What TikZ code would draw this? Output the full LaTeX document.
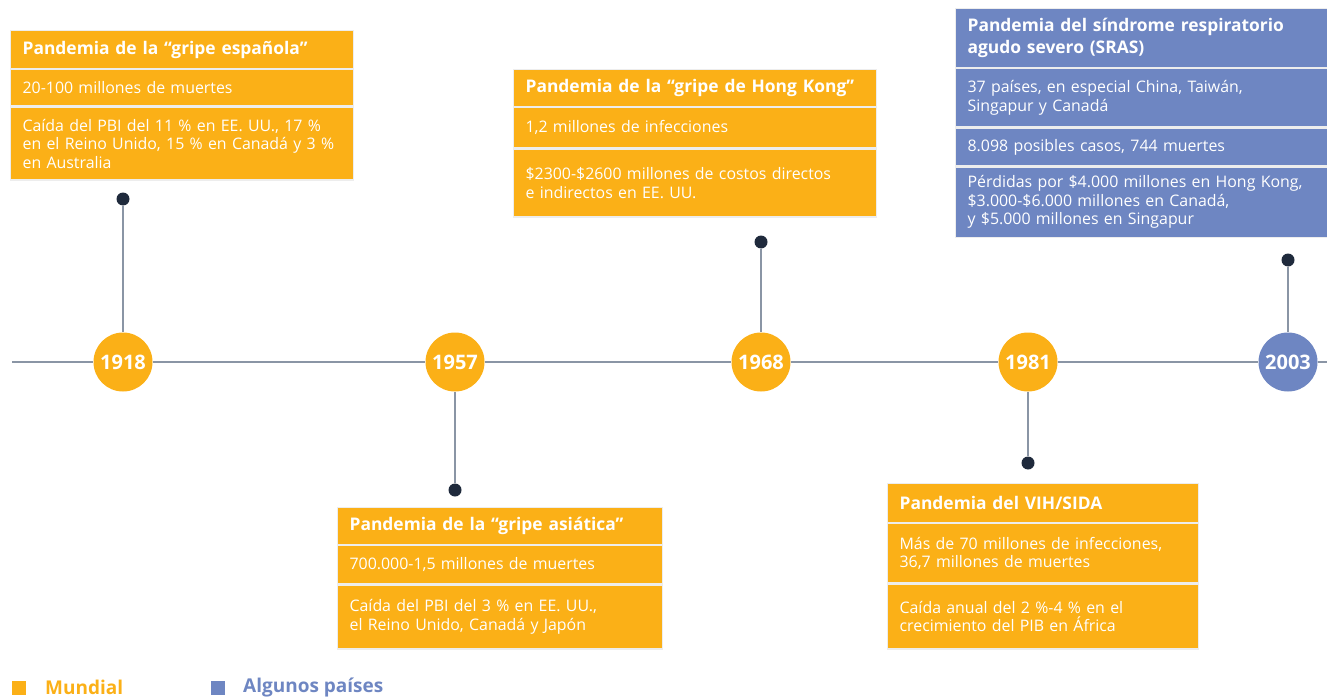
\documentclass[tikz,border=0pt]{standalone}
\usepackage{fontspec}
\setmainfont{Open Sans}
\usetikzlibrary{positioning}
\definecolor{mundial}{HTML}{FBB017}
\definecolor{paises}{HTML}{6E86C2}
\definecolor{punto}{HTML}{1F2A3C}
\definecolor{eje}{HTML}{8A95A5}

\begin{document}
\begin{tikzpicture}[x=1pt,y=-1pt,
    every node/.style={inner sep=0pt},
    hdr/.style={fill=#1,draw=black!7,line width=1.2pt,text=white,font=\bfseries\fontsize{17.4}{22}\selectfont,align=left,inner xsep=12pt,anchor=north west},
    cell/.style={fill=#1,draw=black!7,line width=1.2pt,text=white,font=\fontsize{15.9}{18.5}\selectfont,align=left,inner xsep=12pt},
    yr/.style={circle,fill=#1,minimum size=59pt,text=white,font=\bfseries\fontsize{20}{22}\selectfont},
    dot/.style={circle,fill=punto,minimum size=13pt},
    stem/.style={draw=eje,line width=1.2pt},
    sq/.style={fill=#1,minimum size=14pt},
    legend/.style={text=#1,font=\bfseries\fontsize{19}{22}\selectfont,anchor=west}]
    \useasboundingbox (0,0) rectangle (1327,698);

    % 1918
    \node[hdr=mundial,text width=319pt,minimum height=38pt] (espH) at (10,30) {Pandemia de la “gripe española”};
    \node[cell=mundial,text width=319pt,minimum height=36pt,below=0pt of espH] (espA) {20-100 millones de muertes};
    \node[cell=mundial,text width=319pt,minimum height=73pt,below=0pt of espA] (espB) {Caída del PBI del 11 \% en EE. UU., 17 \%\\ en el Reino Unido, 15 \% en Canadá y 3 \%\\ en Australia};

    % 1968
    \node[hdr=mundial,text width=339pt,minimum height=37pt] (hkH) at (513,69) {Pandemia de la “gripe de Hong Kong”};
    \node[cell=mundial,text width=339pt,minimum height=40pt,below=0pt of hkH] (hkA) {1,2 millones de infecciones};
    \node[cell=mundial,text width=339pt,minimum height=68pt,below=0pt of hkA] (hkB) {\$2300-\$2600 millones de costos directos\\ e indirectos en EE. UU.};

    % 2003
    \node[hdr=paises,text width=348pt,minimum height=59pt] (srasH) at (955,8) {Pandemia del síndrome respiratorio\\ agudo severo (SRAS)};
    \node[cell=paises,text width=348pt,minimum height=58pt,below=0pt of srasH] (srasA) {37 países, en especial China, Taiwán,\\ Singapur y Canadá};
    \node[cell=paises,text width=348pt,minimum height=38pt,below=0pt of srasA] (srasB) {8.098 posibles casos, 744 muertes};
    \node[cell=paises,text width=348pt,minimum height=70pt,below=0pt of srasB] (srasC) {Pérdidas por \$4.000 millones en Hong Kong,\\ \$3.000-\$6.000 millones en Canadá,\\ y \$5.000 millones en Singapur};

    % 1957
    \node[hdr=mundial,text width=301pt,minimum height=37pt] (asiH) at (337,507) {Pandemia de la “gripe asiática”};
    \node[cell=mundial,text width=301pt,minimum height=38pt,below=0pt of asiH] (asiA) {700.000-1,5 millones de muertes};
    \node[cell=mundial,text width=301pt,minimum height=64pt,below=0pt of asiA] (asiB) {Caída del PBI del 3 \% en EE. UU.,\\ el Reino Unido, Canadá y Japón};

    % 1981
    \node[hdr=mundial,text width=287pt,minimum height=39pt] (vihH) at (887,483) {Pandemia del VIH/SIDA};
    \node[cell=mundial,text width=287pt,minimum height=59pt,below=0pt of vihH] (vihA) {Más de 70 millones de infecciones,\\ 36,7 millones de muertes};
    \node[cell=mundial,text width=287pt,minimum height=65pt,below=0pt of vihA] (vihB) {Caída anual del 2 \%-4 \% en el\\ crecimiento del PIB en África};

    % eje
    \coordinate (eje0) at (12,362);
    \coordinate (eje1) at (1327,362);
    \node[yr=mundial] (y1918) at (123,362) {1918};
    \node[yr=mundial] (y1957) at (455,362) {1957};
    \node[yr=mundial] (y1968) at (761,362) {1968};
    \node[yr=mundial] (y1981) at (1028,362) {1981};
    \node[yr=paises] (y2003) at (1288,362) {2003};
    \node[dot] (d1918) at (123,199) {};
    \node[dot] (d1957) at (455,490) {};
    \node[dot] (d1968) at (761,242) {};
    \node[dot] (d1981) at (1028,463) {};
    \node[dot] (d2003) at (1288,260) {};

    \draw[stem] (eje0) -- (y1918) (y1918) -- (y1957) (y1957) -- (y1968) (y1968) -- (y1981) (y1981) -- (y2003) (y2003) -- (eje1);
    \draw[stem] (d1918) -- (y1918);
    \draw[stem] (d1957) -- (y1957);
    \draw[stem] (d1968) -- (y1968);
    \draw[stem] (d1981) -- (y1981);
    \draw[stem] (d2003) -- (y2003);

    % leyenda
    \node[sq=mundial] (sqM) at (18.5,687.5) {};
    \node[legend=mundial] (txtM) at (45,687) {Mundial};
    \node[sq=paises] (sqP) at (217.5,687.5) {};
    \node[legend=paises] (txtP) at (243,687) {Algunos países};
\end{tikzpicture}
\end{document}
